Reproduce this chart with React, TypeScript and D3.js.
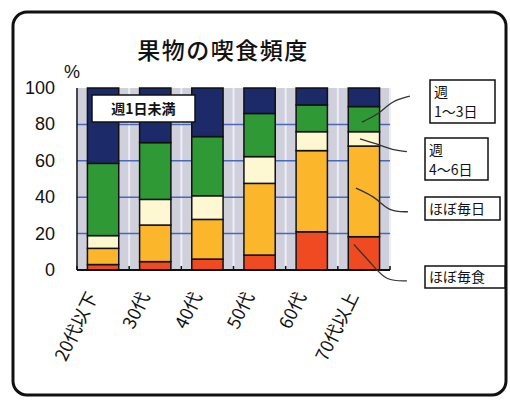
import React from "react";
import * as d3 from "d3";

const categories = ["20代以下", "30代", "40代", "50代", "60代", "70代以上"];
const seriesNames = ["ほぼ毎食", "ほぼ毎日", "週4〜6日", "週1〜3日", "週1日未満"];
const hobo_mai_shoku = [3, 4.6, 6, 8.2, 21, 18.3];
const hobo_mai_nichi = [8.9, 20.1, 21.8, 39.4, 44.6, 49.8];
const shu_4_6 = [7, 14.1, 13, 14.7, 10.4, 7.9];
const shu_1_3 = [39.7, 31.2, 32.5, 23.7, 14.7, 13.8];
const shu_1_miman = [41.4, 30, 26.7, 14, 9.3, 10.2];
const yTicks = [0, 20, 40, 60, 80, 100];
const colors = ["#f04a22", "#fbb62c", "#fdf8d2", "#2f9a35", "#1c2a6a"];

const W = 510, H = 400;
const plot = { left: 77, right: 390, top: 88, bottom: 270 };

export default function App() {
  const x = d3.scaleBand<string>().domain(categories).range([plot.left, plot.right]).paddingInner(0.4).paddingOuter(0.2);
  const y = d3.scaleLinear().domain([0, 100]).range([plot.bottom, plot.top]);
  const series = [hobo_mai_shoku, hobo_mai_nichi, shu_4_6, shu_1_3, shu_1_miman];
  const rows = categories.map((c, i) => {
    const r: any = { cat: c };
    seriesNames.forEach((s, k) => (r[s] = series[k][i]));
    return r;
  });
  const stack = d3.stack<any>().keys(seriesNames)(rows);
  const step = x.step();
  const bw = x.bandwidth();
  const gapCenters: number[] = [];
  categories.forEach((c) => {
    gapCenters.push((x(c) as number) - (step - bw) / 2);
  });
  gapCenters.push((x(categories[5]) as number) + bw + (step - bw) / 2);

  const last = categories[5];
  const lx = (x(last) as number) + bw / 2;
  const mid = (k: number) => y((stack[k][5][0] + stack[k][5][1]) / 2);

  const leader = (pts: [number, number][]) => d3.line().curve(d3.curveBasis)(pts) as string;

  return (
    <svg width={W} height={H} style={{ position: "absolute", left: 0, top: 0, fontFamily: "'Liberation Sans', Arial, sans-serif" }}>
      <rect x={0} y={0} width={W} height={H} fill="#fff" />
      <rect x={13} y={12} width={493} height={383} rx={14} fill="none" stroke="#111" strokeWidth={3} />
      <text x={223} y={59} textAnchor="middle" fontSize={23} fontWeight={500} letterSpacing={1.5} fontFamily="'Noto Sans CJK JP', sans-serif" fill="#111">果物の喫食頻度</text>
      <text x={72} y={78} textAnchor="middle" fontSize={18} fill="#111">%</text>

      <rect x={plot.left} y={plot.top} width={plot.right - plot.left} height={plot.bottom - plot.top} fill="#cfd0dc" />
      {gapCenters.map((g, i) => (
        <line key={"w" + i} x1={g} x2={g} y1={plot.top} y2={plot.bottom} stroke="#eceef4" strokeWidth={2} />
      ))}
      {yTicks.slice(1, 5).map((t) => (
        <line key={"g" + t} x1={plot.left} x2={plot.right} y1={y(t)} y2={y(t)} stroke="#4a68b8" strokeWidth={1.5} />
      ))}
      {yTicks.map((t) => (
        <text key={"t" + t} x={55} y={y(t) + 6} textAnchor="end" fontSize={18} fill="#111">{t}</text>
      ))}

      {stack.map((s, k) =>
        s.map((d, i) => (
          <rect key={k + "-" + i} x={x(categories[i]) as number} y={y(d[1])} width={bw} height={y(d[0]) - y(d[1])}
            fill={colors[k]} stroke="#111" strokeWidth={1.5} />
        ))
      )}
      <line x1={plot.left} x2={plot.left} y1={plot.top} y2={plot.bottom} stroke="#111" strokeWidth={1.5} />
      <line x1={plot.left} x2={plot.right} y1={plot.bottom} y2={plot.bottom} stroke="#111" strokeWidth={2} />
      {gapCenters.map((g, i) => (
        <line key={"bt" + i} x1={g} x2={g} y1={plot.bottom} y2={plot.bottom - 4} stroke="#111" strokeWidth={1.5} />
      ))}

      <rect x={92} y={95} width={103} height={27} fill="#fff" stroke="#111" strokeWidth={1.5} />
      <text x={143.5} y={114} textAnchor="middle" fontSize={14} fontWeight="bold" fontFamily="'Noto Sans CJK JP', sans-serif" fill="#111">週1日未満</text>

      {categories.map((c) => {
        const cx = (x(c) as number) + bw / 2;
        return (
          <text key={c} transform={`translate(${cx - 5},${296}) rotate(-64)`} textAnchor="end" fontSize={18}
            fontFamily="'Noto Sans CJK JP', sans-serif" fill="#111">{c}</text>
        );
      })}

      <g fill="none" stroke="#333" strokeWidth={1.3}>
        <path d={leader([[lx - 2, mid(3) + 3], [lx + 15, mid(3) - 5], [lx + 28, y(93)], [lx + 46, y(95.5)]])} />
        <path d={leader([[lx - 4, mid(2)], [lx + 16, mid(2) + 6], [lx + 28, y(66)], [lx + 43, y(65)]])} />
        <path d={leader([[lx - 8, y(45)], [lx + 12, y(40)], [lx + 25, y(32)], [lx + 44, y(32)]])} />
        <path d={leader([[lx - 10, y(14)], [lx + 10, y(2)], [lx + 22, y(-6)], [lx + 43, y(-6)]])} />
      </g>

      <g fontFamily="'Noto Sans CJK JP', sans-serif" fill="#111" fontSize={14}>
        <rect x={430} y={80} width={65} height={43} fill="#fff" stroke="#111" strokeWidth={1.5} />
        <text x={434} y={97}>週</text>
        <text x={434} y={117}>1〜3日</text>
        <rect x={425} y={138} width={63} height={42} fill="#fff" stroke="#111" strokeWidth={1.5} />
        <text x={429} y={155}>週</text>
        <text x={429} y={175}>4〜6日</text>
        <rect x={425} y={197} width={75} height={23} fill="#fff" stroke="#111" strokeWidth={1.5} />
        <text x={429} y={214}>ほぼ毎日</text>
        <rect x={425} y={266} width={80} height={22} fill="#fff" stroke="#111" strokeWidth={1.5} />
        <text x={429} y={282}>ほぼ毎食</text>
      </g>
    </svg>
  );
}
